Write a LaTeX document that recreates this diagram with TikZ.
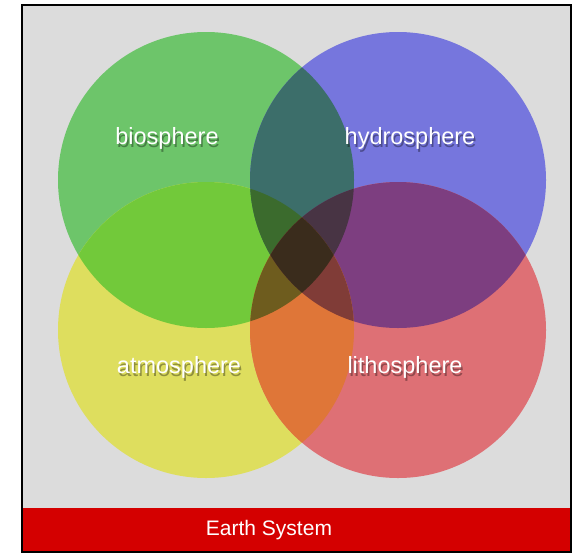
\documentclass[tikz,border=0pt]{standalone}
\usepackage{fontspec}
\setmainfont{Liberation Sans}
\definecolor{bgc}{RGB}{220,220,220}
\definecolor{cG}{RGB}{109,197,106}
\definecolor{cB}{RGB}{118,118,221}
\definecolor{cY}{RGB}{222,222,94}
\definecolor{cR}{RGB}{222,112,117}
\definecolor{cGY}{RGB}{114,201,58}
\definecolor{cGB}{RGB}{60,110,106}
\definecolor{cBR}{RGB}{125,62,128}
\definecolor{cYR}{RGB}{223,118,56}
\definecolor{cGBY}{RGB}{59,107,45}
\definecolor{cGBR}{RGB}{72,52,68}
\definecolor{cGYR}{RGB}{110,92,30}
\definecolor{cBYR}{RGB}{128,60,55}
\definecolor{cALL}{RGB}{58,44,28}
\definecolor{barred}{RGB}{212,0,0}
\newcommand{\shadowtext}[1]{\rlap{\kern1.5pt\raisebox{-2.5pt}{\pgfsetfillopacity{0.35}\color{black}#1}}\pgfsetfillopacity{1}#1}
\begin{document}
\begin{tikzpicture}[x=1pt,y=-1pt,
  lbl/.style={text=white,font=\fontsize{23.5}{27}\selectfont,inner sep=0pt},
  rr/.style={radius=148}]
\useasboundingbox (0,0) rectangle (577,554);
\fill[white] (0,0) rectangle (577,554);
\fill[bgc] (22,5) rectangle (571,552);
\coordinate (g) at (206,180);
\coordinate (b) at (398,180);
\coordinate (y) at (206,330);
\coordinate (r) at (398,330);
% single circles
\fill[cG] (g) circle[rr];
\fill[cB] (b) circle[rr];
\fill[cY] (y) circle[rr];
\fill[cR] (r) circle[rr];
% pairs
\begin{scope}\clip (g) circle[rr]; \fill[cGY] (y) circle[rr]; \end{scope}
\begin{scope}\clip (g) circle[rr]; \fill[cGB] (b) circle[rr]; \end{scope}
\begin{scope}\clip (b) circle[rr]; \fill[cBR] (r) circle[rr]; \end{scope}
\begin{scope}\clip (y) circle[rr]; \fill[cYR] (r) circle[rr]; \end{scope}
% triples
\begin{scope}\clip (g) circle[rr]; \clip (b) circle[rr]; \fill[cGBY] (y) circle[rr]; \end{scope}
\begin{scope}\clip (g) circle[rr]; \clip (b) circle[rr]; \fill[cGBR] (r) circle[rr]; \end{scope}
\begin{scope}\clip (g) circle[rr]; \clip (y) circle[rr]; \fill[cGYR] (r) circle[rr]; \end{scope}
\begin{scope}\clip (b) circle[rr]; \clip (y) circle[rr]; \fill[cBYR] (r) circle[rr]; \end{scope}
% all four
\begin{scope}\clip (g) circle[rr]; \clip (b) circle[rr]; \clip (y) circle[rr]; \fill[cALL] (r) circle[rr]; \end{scope}
% labels
\node[lbl] (bio) at (167,140) {\shadowtext{biosphere}};
\node[lbl] (hyd) at (410,140) {\shadowtext{hydrosphere}};
\node[lbl] (atm) at (179,369) {\shadowtext{atmosphere}};
\node[lbl] (lit) at (405,369) {\shadowtext{lithosphere}};
% bottom bar
\fill[barred] (22,508) rectangle (571,552);
\node[text=white,font=\fontsize{21}{24}\selectfont,inner sep=0pt] (es) at (269,530) {Earth System};
\draw[line width=2pt] (22,5) rectangle (571,552);
\end{tikzpicture}
\end{document}
